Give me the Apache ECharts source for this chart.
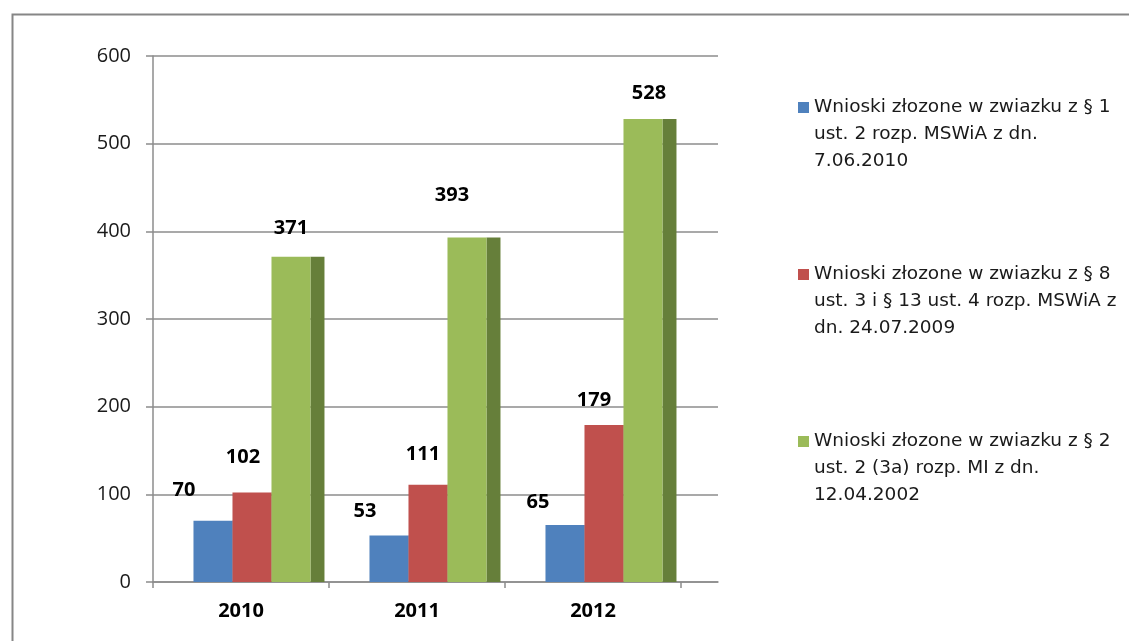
<!DOCTYPE html>
<html>
<head>
<meta charset="utf-8">
<script src="https://cdn.jsdelivr.net/npm/echarts@6/dist/echarts.min.js"></script>
<style>
  html, body { margin: 0; padding: 0; background: #fff; }
  #chart { width: 1129px; height: 641px; }
</style>
</head>
<body>
<div id="chart"></div>
<script>
// Categories (years) and series values
const years = ['2010', '2011', '2012'];
const valuesMswia2010 = [70, 53, 65];
const valuesMswia2009 = [102, 111, 179];
const valuesMi2002 = [371, 393, 528];

// Legend text, one array of lines per series
const legendLines = [
  ['Wnioski złozone w zwiazku z § 1', 'ust. 2 rozp. MSWiA z dn.', '7.06.2010'],
  ['Wnioski złozone w zwiazku z § 8', 'ust. 3 i § 13 ust. 4 rozp. MSWiA z', 'dn. 24.07.2009'],
  ['Wnioski złozone w zwiazku z § 2', 'ust. 2 (3a) rozp. MI z dn.', '12.04.2002']
];

const yMin = 0, yMax = 600, yStep = 100;

const seriesValues = [valuesMswia2010, valuesMswia2009, valuesMi2002];
const frontColors = ['#4F81BD', '#C0504D', '#9BBB59'];
const sideColors = ['#3B5F8C', '#8E3B39', '#667F3A'];
// label nudges [dx, dy] relative to the top centre of each bar front
const labelNudge = [
  [[-29, -30], [-24, -24], [-27, -23]],
  [[-9, -35], [-5, -30], [-10, -25]],
  [[0, -28], [-15, -42], [6, -26]]
];

const names = legendLines.map(l => l.join(' '));
const nameToLines = {};
names.forEach((n, i) => { nameToLines[n] = legendLines[i]; });

function makeRenderItem(k) {
  return function (params, api) {
    const cat = api.value(0);
    const v = api.value(1);
    const base = api.coord([cat, 0]);
    const top = api.coord([cat, v]);
    const band = api.size([1, 0])[0];
    const w = band * 0.2216;
    const depth = band * 0.0795;
    const x0 = base[0] - band * 0.27 + k * w;
    const h = base[1] - top[1];
    const nd = labelNudge[k][params.dataIndex];
    return {
      type: 'group',
      children: [
        { type: 'rect', z2: 0, shape: { x: x0 + w, y: top[1], width: depth, height: h },
          style: { fill: sideColors[k] } },
        { type: 'rect', z2: 1, shape: { x: x0, y: top[1], width: w, height: h },
          style: { fill: frontColors[k] } },
        { type: 'text', z2: 2, x: x0 + w / 2 + nd[0], y: top[1] + nd[1],
          style: { text: String(v), fill: '#000', align: 'center', verticalAlign: 'middle',
                   font: 'bold 20px "Open Sans"' } }
      ]
    };
  };
}

const chart = echarts.init(document.getElementById('chart'));
chart.setOption({
  animation: false,
  backgroundColor: '#fff',
  graphic: [{
    type: 'rect', left: 10, top: 12,
    shape: { width: 1200, height: 700 },
    style: { fill: 'none', stroke: '#868686', lineWidth: 2 }
  }],
  grid: [
    { left: 153, top: 56, width: 565, height: 526 },
    { left: 153, top: 56, width: 528, height: 526 }
  ],
  xAxis: [
    { gridIndex: 0, type: 'value', min: 0, max: 1,
      axisLine: { show: true, lineStyle: { color: '#8c8c8c', width: 1.5 } },
      axisTick: { show: false }, axisLabel: { show: false }, splitLine: { show: false } },
    { gridIndex: 1, type: 'category', data: years,
      axisLine: { show: false },
      axisTick: { show: true, length: 6, lineStyle: { color: '#8c8c8c', width: 1.5 } },
      axisLabel: { margin: 19, color: '#000', fontFamily: 'Open Sans', fontSize: 20, fontWeight: 'bold' } }
  ],
  yAxis: [
    { gridIndex: 0, type: 'value', min: yMin, max: yMax, interval: yStep,
      axisLine: { show: true, lineStyle: { color: '#8c8c8c', width: 1.5 } },
      axisTick: { show: true, length: 7, lineStyle: { color: '#8c8c8c', width: 1.5 } },
      axisLabel: { margin: 22, color: '#1a1a1a', fontFamily: 'Open Sans', fontSize: 20 },
      splitLine: { show: true, lineStyle: { color: '#8c8c8c', width: 1.5 } } },
    { gridIndex: 1, type: 'value', min: yMin, max: yMax, interval: yStep, show: false }
  ],
  legend: {
    orient: 'vertical', left: 798, top: 40, padding: 0,
    itemWidth: 11, itemHeight: 11, itemGap: 32, icon: 'rect',
    data: names,
    formatter: n => '\n\n' + nameToLines[n].join('\n'),
    textStyle: { fontFamily: 'DejaVu Sans', fontSize: 18.5, lineHeight: 27, color: '#1a1a1a' }
  },
  series: seriesValues.map((vals, k) => ({
    type: 'custom',
    name: names[k],
    xAxisIndex: 1, yAxisIndex: 1,
    itemStyle: { color: frontColors[k] },
    encode: { x: 0, y: 1 },
    data: vals.map((v, i) => [i, v]),
    renderItem: makeRenderItem(k)
  }))
});
</script>
</body>
</html>
